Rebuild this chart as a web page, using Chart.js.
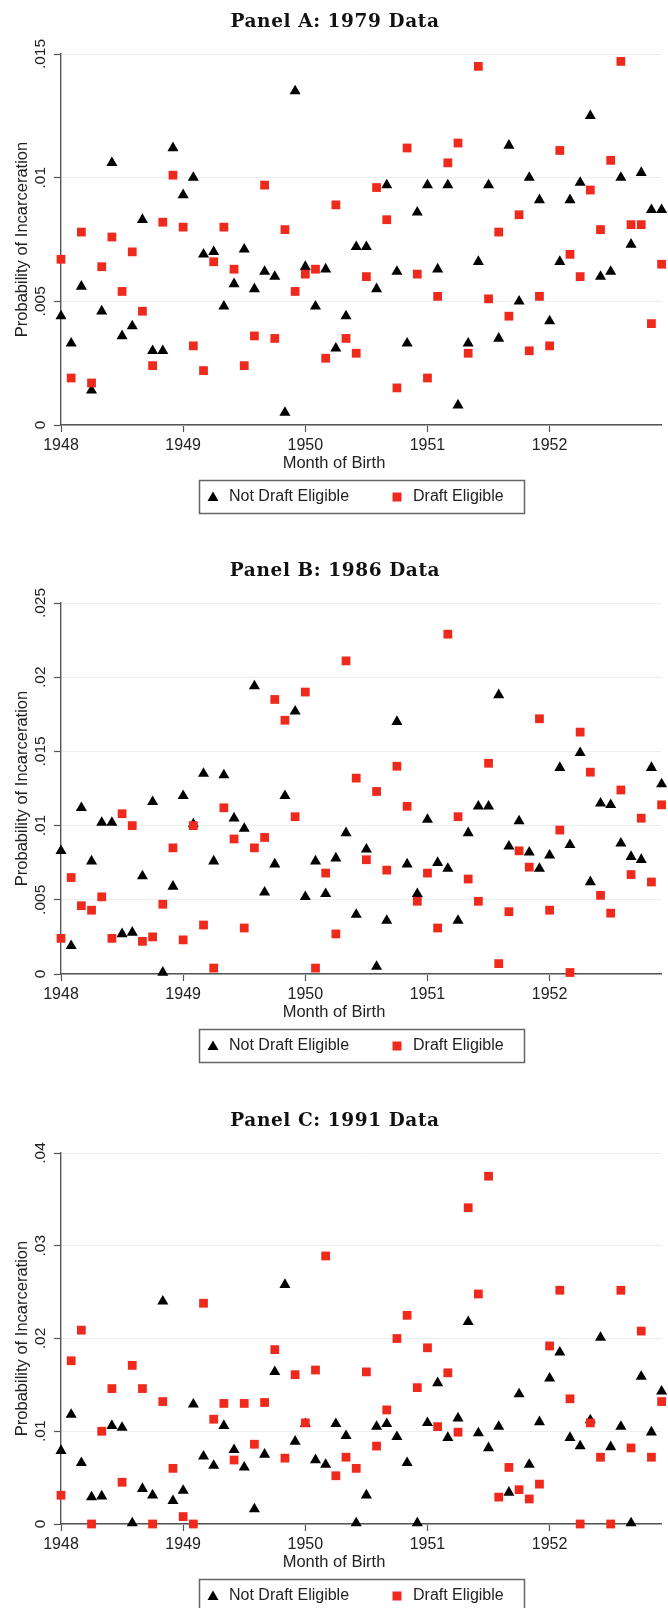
<!DOCTYPE html>
<html>
<head>
<meta charset="utf-8">
<script src="https://cdn.jsdelivr.net/npm/chart.js@4.4.0/dist/chart.umd.min.js"></script>
<style>
  html, body { margin: 0; padding: 0; background: #fff; overflow: hidden; }
  body { width: 668px; height: 1608px; position: relative; }
  canvas { position: absolute; left: 0; }
</style>
</head>
<body>
<canvas id="panelA" width="668" height="550" style="top:0px"></canvas>
<canvas id="panelB" width="668" height="550" style="top:549px"></canvas>
<canvas id="panelC" width="668" height="550" style="top:1099px"></canvas>
<script>
// months Jan 1948 .. Dec 1952, x = month index
const years = [1948, 1949, 1950, 1951, 1952];
const yearTicks = [0, 12, 24, 36, 48];

// Panel A: 1979 data
const notDraftA = [0.0044, 0.0033, 0.0056, 0.0014, 0.0046, 0.0106, 0.0036, 0.0040, 0.0083, 0.0030, 0.0030, 0.0112,
    0.0093, 0.0100, 0.0069, 0.0070, 0.0048, 0.0057, 0.0071, 0.0055, 0.0062, 0.0060, 0.0005, 0.0135,
    0.0064, 0.0048, 0.0063, 0.0031, 0.0044, 0.0072, 0.0072, 0.0055, 0.0097, 0.0062, 0.0033, 0.0086,
    0.0097, 0.0063, 0.0097, 0.0008, 0.0033, 0.0066, 0.0097, 0.0035, 0.0113, 0.0050, 0.0100, 0.0091,
    0.0042, 0.0066, 0.0091, 0.0098, 0.0125, 0.0060, 0.0062, 0.0100, 0.0073, 0.0102, 0.0087, 0.0087];
const draftA = [0.0067, 0.0019, 0.0078, 0.0017, 0.0064, 0.0076, 0.0054, 0.0070, 0.0046, 0.0024, 0.0082, 0.0101,
    0.0080, 0.0032, 0.0022, 0.0066, 0.0080, 0.0063, 0.0024, 0.0036, 0.0097, 0.0035, 0.0079, 0.0054,
    0.0061, 0.0063, 0.0027, 0.0089, 0.0035, 0.0029, 0.0060, 0.0096, 0.0083, 0.0015, 0.0112, 0.0061,
    0.0019, 0.0052, 0.0106, 0.0114, 0.0029, 0.0145, 0.0051, 0.0078, 0.0044, 0.0085, 0.0030, 0.0052,
    0.0032, 0.0111, 0.0069, 0.0060, 0.0095, 0.0079, 0.0107, 0.0147, 0.0081, 0.0081, 0.0041, 0.0065];
const yTicksA = [0, 0.005, 0.01, 0.015];
const yLabelsA = ['0', '.005', '.01', '.015'];

// Panel B: 1986 data
const notDraftB = [0.0083, 0.0019, 0.0112, 0.0076, 0.0102, 0.0102, 0.0027, 0.0028, 0.0066, 0.0116, 0.0001, 0.0059,
    0.0120, 0.0101, 0.0135, 0.0076, 0.0134, 0.0105, 0.0098, 0.0194, 0.0055, 0.0074, 0.0120, 0.0177,
    0.0052, 0.0076, 0.0054, 0.0078, 0.0095, 0.0040, 0.0084, 0.0005, 0.0036, 0.0170, 0.0074, 0.0054,
    0.0104, 0.0075, 0.0071, 0.0036, 0.0095, 0.0113, 0.0113, 0.0188, 0.0086, 0.0103, 0.0082, 0.0071,
    0.0080, 0.0139, 0.0087, 0.0149, 0.0062, 0.0115, 0.0114, 0.0088, 0.0079, 0.0077, 0.0139, 0.0128];
const draftB = [0.0024, 0.0065, 0.0046, 0.0043, 0.0052, 0.0024, 0.0108, 0.0100, 0.0022, 0.0025, 0.0047, 0.0085,
    0.0023, 0.0100, 0.0033, 0.0004, 0.0112, 0.0091, 0.0031, 0.0085, 0.0092, 0.0185, 0.0171, 0.0106,
    0.0190, 0.0004, 0.0068, 0.0027, 0.0211, 0.0132, 0.0077, 0.0123, 0.0070, 0.0140, 0.0113, 0.0049,
    0.0068, 0.0031, 0.0229, 0.0106, 0.0064, 0.0049, 0.0142, 0.0007, 0.0042, 0.0083, 0.0072, 0.0172,
    0.0043, 0.0097, 0.0001, 0.0163, 0.0136, 0.0053, 0.0041, 0.0124, 0.0067, 0.0105, 0.0062, 0.0114];
const yTicksB = [0, 0.005, 0.01, 0.015, 0.02, 0.025];
const yLabelsB = ['0', '.005', '.01', '.015', '.02', '.025'];

// Panel C: 1991 data
const notDraftC = [0.0079, 0.0118, 0.0066, 0.0029, 0.0030, 0.0106, 0.0104, 0.0001, 0.0038, 0.0031, 0.0240, 0.0025,
    0.0036, 0.0129, 0.0073, 0.0063, 0.0106, 0.0080, 0.0061, 0.0016, 0.0075, 0.0164, 0.0258, 0.0089,
    0.0108, 0.0069, 0.0064, 0.0108, 0.0095, 0.0001, 0.0031, 0.0105, 0.0108, 0.0094, 0.0066, 0.0001,
    0.0109, 0.0152, 0.0093, 0.0114, 0.0218, 0.0098, 0.0082, 0.0105, 0.0034, 0.0140, 0.0064, 0.0110,
    0.0157, 0.0185, 0.0093, 0.0084, 0.0112, 0.0201, 0.0083, 0.0105, 0.0001, 0.0159, 0.0099, 0.0143];
const draftC = [0.0031, 0.0176, 0.0209, 0.0000, 0.0100, 0.0146, 0.0045, 0.0171, 0.0146, 0.0000, 0.0132, 0.0060,
    0.0008, 0.0000, 0.0238, 0.0113, 0.0130, 0.0069, 0.0130, 0.0086, 0.0131, 0.0188, 0.0071, 0.0161,
    0.0109, 0.0166, 0.0289, 0.0052, 0.0072, 0.0060, 0.0164, 0.0084, 0.0123, 0.0200, 0.0225, 0.0147,
    0.0190, 0.0105, 0.0163, 0.0099, 0.0341, 0.0248, 0.0375, 0.0029, 0.0061, 0.0037, 0.0027, 0.0043,
    0.0192, 0.0252, 0.0135, 0.0000, 0.0109, 0.0072, 0.0000, 0.0252, 0.0082, 0.0208, 0.0072, 0.0132];
const yTicksC = [0, 0.01, 0.02, 0.03, 0.04];
const yLabelsC = ['0', '.01', '.02', '.03', '.04'];

const seriesNames = ['Not Draft Eligible', 'Draft Eligible'];
const black = '#000000';
const red = '#ef2a1c';
const axisGrey = '#555555';
const sans = '"Liberation Sans", Arial, sans-serif';

// titles, rotated y labels, axis titles and the boxed legend
const panelText = {
    id: 'panelText',
    afterDraw(chart, args, opts) {
        const ctx = chart.ctx,
            ys = chart.scales.y,
            area = chart.chartArea;
        ctx.save();
        ctx.fillStyle = '#111';
        ctx.textAlign = 'center';
        ctx.textBaseline = 'middle';

        ctx.font = 'bold 18.5px "DejaVu Serif", serif';
        ctx.letterSpacing = '0.6px';
        ctx.fillText(opts.title, 335, 22);
        ctx.letterSpacing = '0px';

        ctx.fillStyle = '#222';
        ctx.font = '15.5px ' + sans;
        ys.ticks.forEach(function (t, i) {
            ctx.save();
            ctx.translate(41, ys.getPixelForValue(t.value));
            ctx.rotate(-Math.PI / 2);
            ctx.fillText(opts.yLabels[i], 0, 0);
            ctx.restore();
        });

        ctx.font = '16.5px ' + sans;
        ctx.save();
        ctx.translate(22, (area.top + area.bottom) / 2);
        ctx.rotate(-Math.PI / 2);
        ctx.fillText('Probability of Incarceration', 0, 0);
        ctx.restore();

        ctx.fillText('Month of Birth', 334, 463);

        // legend
        ctx.strokeStyle = '#666';
        ctx.lineWidth = 1.5;
        ctx.strokeRect(199.5, 480.5, 325, 33);
        ctx.textAlign = 'left';
        ctx.font = '16px ' + sans;
        ctx.fillStyle = black;
        ctx.beginPath();
        ctx.moveTo(213, 491.5);
        ctx.lineTo(218.5, 501);
        ctx.lineTo(207.5, 501);
        ctx.closePath();
        ctx.fill();
        ctx.fillStyle = '#222';
        ctx.fillText(seriesNames[0], 229, 497);
        ctx.fillStyle = red;
        ctx.fillRect(392.5, 492.5, 9, 9);
        ctx.fillStyle = '#222';
        ctx.fillText(seriesNames[1], 413, 497);
        ctx.restore();
    }
};

function makePanel(id, title, notDraft, draft, yTicks, yLabels) {
    let ctx = document.getElementById(id),
        myChart = new Chart(ctx, {
            type: 'scatter',
            data: {
                datasets: [{
                    label: seriesNames[0],
                    data: notDraft.map(function (v, k) { return {x: k, y: v}; }),
                    pointStyle: 'triangle',
                    radius: 6.4,
                    backgroundColor: black,
                    borderColor: black,
                    borderWidth: 0,
                    order: 2,
                    clip: false
                }, {
                    label: seriesNames[1],
                    data: draft.map(function (v, k) { return {x: k, y: v}; }),
                    pointStyle: 'rect',
                    radius: 6.2,
                    backgroundColor: red,
                    borderColor: red,
                    borderWidth: 0,
                    order: 1,
                    clip: false
                }]
            },
            options: {
                responsive: false,
                animation: false,
                devicePixelRatio: 1,
                layout: {padding: {left: 0, right: 5, top: 54, bottom: 0}},
                plugins: {
                    legend: {display: false},
                    tooltip: {enabled: false},
                    panelText: {title: title, yLabels: yLabels}
                },
                scales: {
                    x: {
                        type: 'linear',
                        min: 0,
                        max: 59,
                        afterBuildTicks: function (s) { s.ticks = yearTicks.map(function (v) { return {value: v}; }); },
                        afterFit: function (s) { s.height = 125; },
                        ticks: {
                            autoSkip: false,
                            maxRotation: 0,
                            padding: 4,
                            color: '#222',
                            font: {family: sans, size: 16},
                            callback: function (v, i) { return String(years[i]); }
                        },
                        grid: {drawOnChartArea: false, drawTicks: true, tickLength: 7, tickColor: axisGrey, tickWidth: 1.2},
                        border: {color: axisGrey, width: 1.4}
                    },
                    y: {
                        min: 0,
                        max: yTicks[yTicks.length - 1],
                        afterBuildTicks: function (s) { s.ticks = yTicks.map(function (v) { return {value: v}; }); },
                        afterFit: function (s) { s.width = 61; },
                        ticks: {display: false},
                        grid: {color: '#e9eeee', lineWidth: 1, drawTicks: true, tickLength: 7, tickColor: axisGrey, tickWidth: 1.2},
                        border: {color: axisGrey, width: 1.4}
                    }
                }
            },
            plugins: [panelText]
        });
    return myChart;
}

makePanel('panelA', 'Panel A: 1979 Data', notDraftA, draftA, yTicksA, yLabelsA);
makePanel('panelB', 'Panel B: 1986 Data', notDraftB, draftB, yTicksB, yLabelsB);
makePanel('panelC', 'Panel C: 1991 Data', notDraftC, draftC, yTicksC, yLabelsC);
</script>
</body>
</html>
